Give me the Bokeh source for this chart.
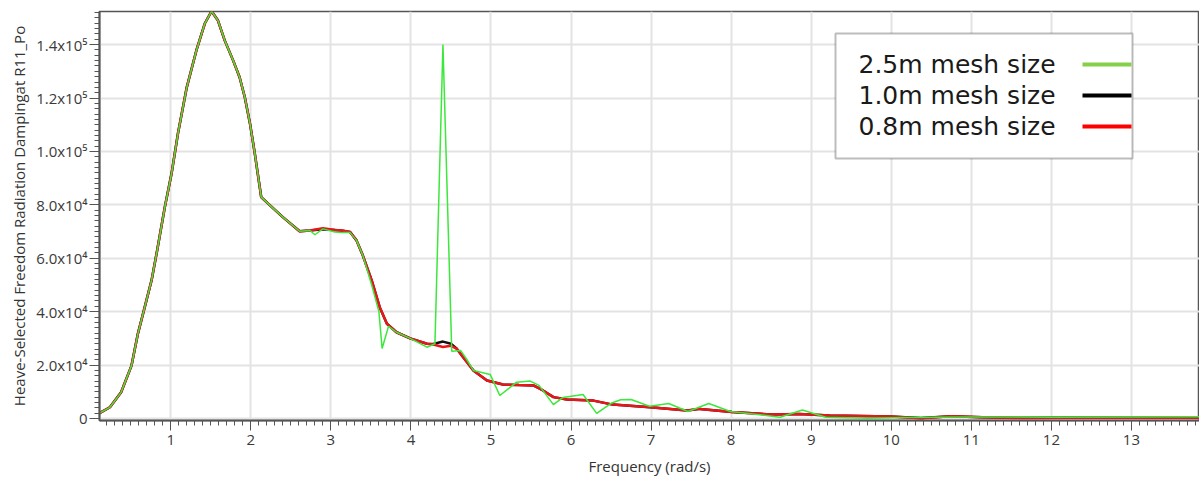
from bokeh.plotting import figure
from bokeh.models import Range1d, FixedTicker, BoxAnnotation, Label
from bokeh.embed import file_html
from bokeh.resources import INLINE

# ---------------- data ----------------
freq_08 = [0.11, 0.24, 0.38, 0.51, 0.59, 0.675, 0.76, 0.83, 0.925, 1.01, 1.09, 1.2, 1.32, 1.425, 1.51,
           1.59, 1.675, 1.78, 1.86, 1.925, 1.99, 2.05, 2.13, 2.24, 2.4, 2.61, 2.74, 2.9, 3.05, 3.15,
           3.24, 3.32, 3.4, 3.51, 3.61, 3.7, 3.82, 3.99, 4.2, 4.28, 4.4, 4.5, 4.57, 4.65, 4.78,
           4.95, 5.15, 5.35, 5.53, 5.65, 5.78, 5.95, 6.28, 6.52, 6.99, 7.45, 7.61, 8.01, 8.51, 8.85,
           9.23, 9.99, 10.37, 10.75, 11.14, 11.61, 12.2, 13.0, 13.85]
damp_08 = [2000, 4200, 9800, 19800, 31800, 41700, 51700, 62900, 79000, 91700, 106700, 124000, 137800, 147900, 152500,
           149000, 141500, 134000, 127800, 120300, 110400, 99200, 82900, 79800, 75400, 70100, 70400, 71200, 70600, 70300,
           69800, 66700, 61000, 51700, 41700, 35500, 32300, 30000, 28000, 27700, 26800, 27200, 26200, 23000, 18000,
           14200, 12700, 12500, 12400, 10500, 8000, 7100, 6700, 5200, 4200, 3000, 3600, 2400, 1500, 1700,
           1100, 750, 100, 860, 500, 200, 300, 300, 300]

freq_10 = list(freq_08)
damp_10 = [2000, 4200, 9800, 19800, 31800, 41700, 51700, 62900, 79000, 91700, 106700, 124000, 137800, 147900, 152500,
           149000, 141500, 134000, 127800, 120300, 110400, 99200, 82900, 79800, 75400, 70100, 70400, 70900, 70600, 70300,
           69800, 66700, 61000, 51700, 41700, 35500, 32300, 30000, 28000, 27900, 28800, 28000, 26200, 23000, 18000,
           14200, 12700, 12500, 12400, 10500, 8000, 7100, 6700, 5200, 4200, 3000, 3600, 2400, 1500, 1700,
           1100, 750, 150, 800, 500, 250, 300, 300, 300]

freq_25 = [0.11, 0.24, 0.38, 0.51, 0.59, 0.675, 0.76, 0.83, 0.925, 1.01, 1.09, 1.2, 1.32, 1.425, 1.51,
           1.59, 1.675, 1.78, 1.86, 1.925, 1.99, 2.05, 2.13, 2.24, 2.4, 2.61, 2.74, 2.8, 2.9, 3.05,
           3.15, 3.24, 3.32, 3.4, 3.51, 3.6, 3.64, 3.72, 3.82, 3.99, 4.2, 4.3, 4.4, 4.51, 4.62,
           4.7, 4.78, 4.99, 5.11, 5.32, 5.49, 5.6, 5.78, 5.9, 6.15, 6.32, 6.5, 6.62, 6.75, 6.98,
           7.22, 7.46, 7.72, 7.99, 8.3, 8.61, 8.89, 9.18, 9.7, 10.2, 11.0, 12.0, 13.0, 13.85]
damp_25 = [2000, 4200, 9800, 19800, 31800, 41700, 51700, 62900, 79000, 91700, 106700, 124000, 137800, 147900, 152500,
           149000, 141500, 134000, 127800, 120300, 110400, 99200, 82900, 79800, 75400, 70100, 70400, 68800, 71000, 69800,
           69600, 69600, 66700, 61000, 50000, 40000, 26200, 34500, 32300, 30000, 26700, 28000, 140000, 25200, 25500,
           22000, 18000, 16500, 8600, 13600, 14000, 12400, 5200, 7900, 9000, 1900, 5700, 7000, 7100, 4600,
           5600, 2600, 5600, 2600, 1600, 500, 3200, 500, 100, 400, 600, 500, 600, 700]

x_ticks = [1, 2, 3, 4, 5, 6, 7, 8, 9, 10, 11, 12, 13]
y_ticks = [0, 20000, 40000, 60000, 80000, 100000, 120000, 140000]
y_tick_labels = ["0", "2.0x10\u2074", "4.0x10\u2074", "6.0x10\u2074", "8.0x10\u2074",
                 "1.0x10\u2075", "1.2x10\u2075", "1.4x10\u2075"]
series_names = ["2.5m mesh size", "1.0m mesh size", "0.8m mesh size"]
legend_colors = ["#86cf48", "#000000", "#ff0000"]

# ---------------- layout constants (canvas pixels) ----------------
W, H = 1199, 487
FL, FT, FB = 99, 11, 420          # frame left / top / bottom on the canvas

def sx(cx):                        # canvas x -> screen units (from frame left)
    return cx - FL

def sy(cy):                        # canvas y (from top) -> screen units (from frame bottom)
    return FB - cy

# ---------------- figure ----------------
p = figure(width=W, height=H, output_backend="svg", toolbar_location=None,
           x_range=Range1d(0.11, 13.85), y_range=Range1d(-750, 152400),
           min_border_left=FL, min_border_right=0, min_border_top=FT, min_border_bottom=H - FB)
p.background_fill_color = "white"
p.border_fill_color = "white"
p.outline_line_color = "#555555"
p.outline_line_width = 1.5

p.line(freq_10, damp_10, line_color="#111111", line_width=2.5)
p.line(freq_08, damp_08, line_color="#e8161b", line_width=2.5)
p.line(freq_25, damp_25, line_color="#3be83b", line_width=1.5)

p.xaxis.ticker = FixedTicker(ticks=x_ticks, minor_ticks=[i / 10 for i in range(1, 139)])
p.yaxis.ticker = FixedTicker(ticks=y_ticks, minor_ticks=[i * 2000 for i in range(0, 77)])
p.yaxis.major_label_overrides = {t: l for t, l in zip(y_ticks, y_tick_labels)}

for ax in (p.xaxis[0], p.yaxis[0]):
    ax.axis_line_color = "#555555"
    ax.axis_line_width = 2
    ax.major_tick_line_color = "#555555"
    ax.minor_tick_line_color = "#555555"
    ax.major_tick_in = 0
    ax.minor_tick_in = 0
    ax.major_tick_out = 10
    ax.minor_tick_out = 5
    ax.major_label_text_font = "Open Sans"
    ax.major_label_text_font_size = "15px"
    ax.major_label_text_color = "#3a3a3a"
    ax.axis_label_text_font = "Open Sans"
    ax.axis_label_text_font_size = "15px"
    ax.axis_label_text_font_style = "normal"
    ax.axis_label_text_color = "#333333"

p.xaxis.axis_label = "Frequency (rad/s)"
p.xaxis.major_label_standoff = 4
p.xaxis.axis_label_standoff = 8
p.yaxis.axis_label = "Heave-Selected Freedom Radiation Dampingat R11_Po"
p.yaxis.major_label_standoff = 2
p.yaxis.axis_label_standoff = 4

p.xgrid.grid_line_color = "#e3e3e3"
p.xgrid.grid_line_width = 2
p.ygrid.grid_line_color = "#e3e3e3"
p.ygrid.grid_line_width = 2

# ---------------- custom legend (text left, line right) ----------------
p.add_layout(BoxAnnotation(left=sx(835), right=sx(1132), top=sy(33), bottom=sy(158),
                           left_units="screen", right_units="screen",
                           top_units="screen", bottom_units="screen",
                           fill_color="white", fill_alpha=1.0,
                           line_color="#222222", line_width=2))
row_y = [64, 95, 126]
for name, col, yy in zip(series_names, legend_colors, row_y):
    p.add_layout(Label(x=sx(858), y=sy(yy), x_units="screen", y_units="screen", text=name,
                       text_font="DejaVu Sans", text_font_size="25px", text_color="#1a1a1a",
                       text_baseline="middle", text_align="left"))
    p.add_layout(BoxAnnotation(left=sx(1082), right=sx(1131), top=sy(yy - 2), bottom=sy(yy + 2),
                               left_units="screen", right_units="screen",
                               top_units="screen", bottom_units="screen",
                               fill_color=col, fill_alpha=1.0, line_alpha=0))

open("out.html", "w").write(file_html(p, INLINE))
